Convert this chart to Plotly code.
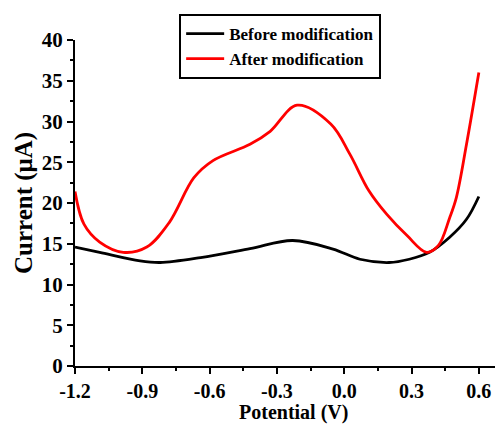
import plotly.graph_objects as go

# Differential pulse voltammetry curves before and after electrode modification
potential_before = [-1.2, -1.09, -0.91, -0.82, -0.64, -0.42, -0.23, -0.05, 0.07,
                    0.20, 0.29, 0.38, 0.47, 0.545, 0.6]
current_before = [14.6, 13.95, 12.9, 12.7, 13.3, 14.4, 15.4, 14.35, 13.1,
                  12.7, 13.1, 13.95, 15.8, 18.0, 20.8]

potential_after = [-1.2, -1.16, -1.09, -0.985, -0.88, -0.78, -0.67, -0.585, -0.42,
                   -0.33, -0.21, -0.06, 0.025, 0.11, 0.19, 0.28, 0.367, 0.42,
                   0.47, 0.50, 0.545, 0.6]
current_after = [21.4, 17.4, 15.2, 13.95, 14.6, 17.6, 23.1, 25.2, 27.2,
                 28.8, 32.0, 29.7, 26.0, 21.5, 18.6, 16.0, 13.95, 14.8,
                 18.2, 20.7, 27.2, 36.0]

x_ticks = [-1.2, -0.9, -0.6, -0.3, 0.0, 0.3, 0.6]
x_tick_text = ["-1.2", "-0.9", "-0.6", "-0.3", "0.0", "0.3", "0.6"]
y_ticks = [0, 5, 10, 15, 20, 25, 30, 35, 40]

FONT = "Liberation Serif"
TOP, BOTTOM, HEIGHT = 40, 60, 426
PLOT_H = HEIGHT - TOP - BOTTOM

fig = go.Figure()
fig.add_trace(go.Scatter(
    x=potential_before, y=current_before, mode="lines",
    name="Before modification",
    line=dict(color="black", width=2.8, shape="spline", smoothing=1.0),
))
fig.add_trace(go.Scatter(
    x=potential_after, y=current_after, mode="lines",
    name="After modification",
    line=dict(color="#ff0000", width=2.8, shape="spline", smoothing=1.0),
))

axis_common = dict(
    showgrid=False, zeroline=False, showline=True, linecolor="black", linewidth=2,
    ticks="outside", ticklen=6, tickwidth=2, tickcolor="black", automargin=False,
    tickfont=dict(family=FONT, size=21, color="black", weight="bold"),
)

fig.update_xaxes(
    range=[-1.2, 0.672], tickvals=x_ticks, ticktext=x_tick_text,
    minor=dict(dtick=0.15, tick0=-1.2, ticks="outside", ticklen=3, tickwidth=2,
               tickcolor="black", showgrid=False),
    **{**axis_common, "tickfont": dict(family=FONT, size=20, color="black", weight="bold")},
)
fig.update_yaxes(
    range=[0, 40], tickvals=y_ticks,
    minor=dict(dtick=2.5, tick0=0, ticks="outside", ticklen=3, tickwidth=2,
               tickcolor="black", showgrid=False),
    title=dict(text="Current (μA)", standoff=2,
               font=dict(family=FONT, size=25, color="black", weight="bold")),
    **axis_common,
)

# x-axis title anchored to the bottom edge of the figure, under the tick labels
fig.add_annotation(
    text="Potential (V)", xref="paper", yref="paper",
    x=0.52, y=-(BOTTOM - 1) / PLOT_H, xanchor="center", yanchor="bottom",
    showarrow=False, borderpad=0,
    font=dict(family=FONT, size=20, color="black", weight="bold"),
)

fig.update_layout(
    width=498, height=HEIGHT,
    margin=dict(l=75, r=3, t=TOP, b=BOTTOM),
    paper_bgcolor="white", plot_bgcolor="white",
    legend=dict(
        x=0.248, y=1 + 26 / PLOT_H, xanchor="left", yanchor="top",
        bgcolor="white", bordercolor="black", borderwidth=2,
        font=dict(family=FONT, size=17, color="black", weight="bold"),
        tracegroupgap=0, itemwidth=38,
    ),
)

fig.write_html("out.html")
